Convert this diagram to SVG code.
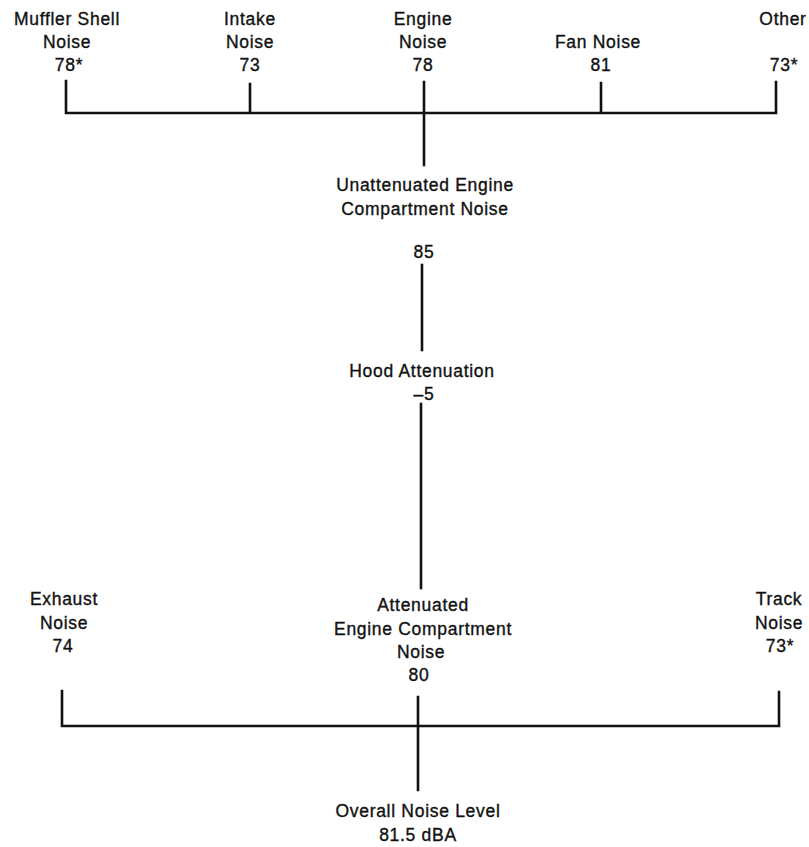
<svg xmlns="http://www.w3.org/2000/svg" width="809" height="847" viewBox="0 0 809 847">
<style>
text{font-family:"Liberation Sans","DejaVu Sans",sans-serif;font-size:17.5px;fill:#111;stroke:#111;stroke-width:0.35;text-anchor:middle;letter-spacing:0.7px}
.ln{stroke:#111;stroke-width:2.6;fill:none;stroke-linecap:square}
</style>
<rect width="809" height="847" fill="#fff"/>
<g id="connectors">
<path class="ln" d="M66 81V113H776V82M250 84V113M601 83V113M424 82V165"/>
<path class="ln" d="M422 265V350"/>
<path class="ln" d="M421 404V588"/>
<path class="ln" d="M62 691V726H779V692M418 697V790"/>
</g>
<g id="muffler"><text x="67" y="25">Muffler Shell</text><text x="67" y="48">Noise</text><text x="69" y="71">78*</text></g>
<g id="intake"><text x="250" y="25">Intake</text><text x="250" y="48">Noise</text><text x="250" y="71">73</text></g>
<g id="engine"><text x="423" y="25">Engine</text><text x="423" y="48">Noise</text><text x="423" y="71">78</text></g>
<g id="fan"><text x="598" y="48">Fan Noise</text><text x="601" y="71">81</text></g>
<g id="other"><text x="783" y="25">Other</text><text x="784" y="71">73*</text></g>
<g id="unattenuated"><text x="425" y="191">Unattenuated Engine</text><text x="425" y="215">Compartment Noise</text><text x="424" y="258">85</text></g>
<g id="hood"><text x="422" y="377">Hood Attenuation</text><text x="424" y="400">–5</text></g>
<g id="attenuated"><text x="423" y="611">Attenuated</text><text x="423" y="635">Engine Compartment</text><text x="421" y="658">Noise</text><text x="419" y="681">80</text></g>
<g id="exhaust"><text x="64" y="605">Exhaust</text><text x="64" y="629">Noise</text><text x="63" y="652">74</text></g>
<g id="track"><text x="779" y="605">Track</text><text x="779" y="629">Noise</text><text x="780" y="652">73*</text></g>
<g id="overall"><text x="418" y="817">Overall Noise Level</text><text x="418" y="841">81.5 dBA</text></g>
</svg>
